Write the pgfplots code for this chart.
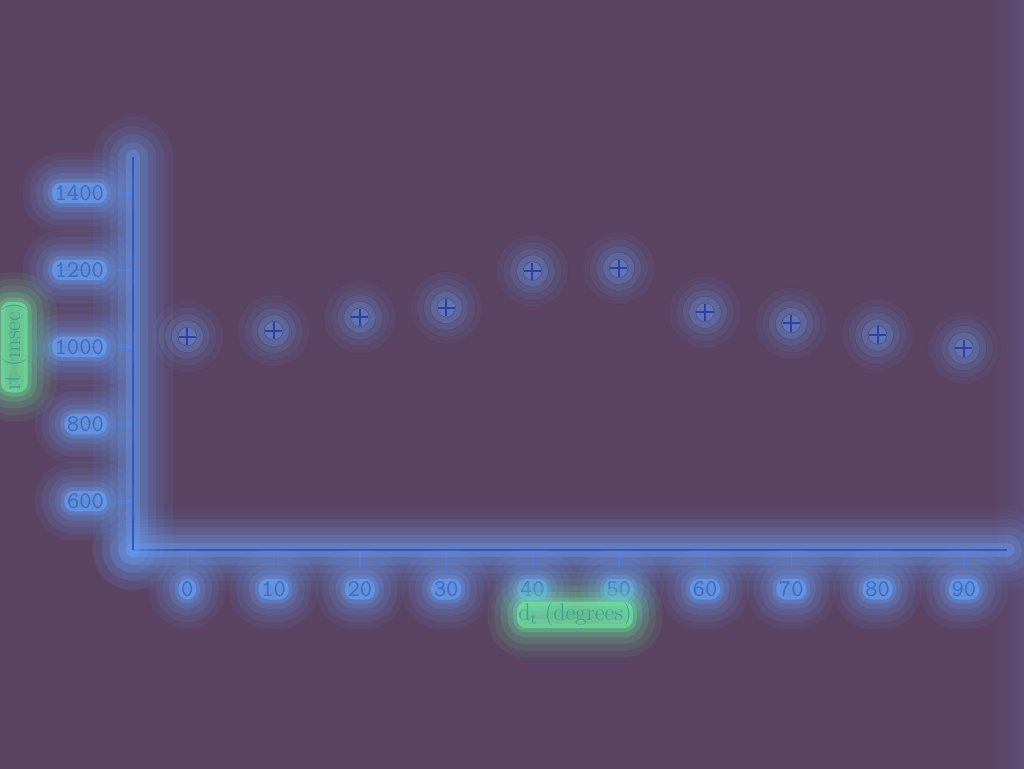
\documentclass[border=0pt]{standalone}
\usepackage{pgfplots}
\pgfplotsset{compat=1.18}
\definecolor{bgc}{RGB}{91,68,99}
\definecolor{bgr}{RGB}{96,80,128}
\definecolor{axisblue}{RGB}{52,86,196}
\definecolor{glow}{RGB}{105,165,255}
\definecolor{markc}{RGB}{50,62,160}
\definecolor{txt}{RGB}{50,112,196}
\definecolor{gl2}{RGB}{112,240,160}
\definecolor{ltxt}{RGB}{50,160,160}
\tikzset{
  glowbox/.style={rounded corners=7pt,
    preaction={draw=#1, line width=44pt, opacity=0.07, line join=round},
    preaction={draw=#1, line width=34pt, opacity=0.09, line join=round},
    preaction={draw=#1, line width=24pt, opacity=0.12, line join=round},
    preaction={draw=#1, line width=14pt, opacity=0.18, line join=round},
    preaction={draw=#1, line width=6pt, opacity=0.25, line join=round},
    preaction={fill=#1, opacity=0.6}},
}
\begin{document}
\begin{tikzpicture}
\path[use as bounding box] (0,0) rectangle (768pt,576pt);
\fill[bgc] (-5pt,-5pt) rectangle (775pt,581pt);
\shade[left color=bgc, right color=bgr] (745pt,-5pt) rectangle (775pt,581pt);
\begin{axis}[
  at={(99.75pt,163.5pt)}, anchor=south west,
  scale only axis, width=655.5pt, height=294.75pt,
  xmin=-6.3, xmax=95, ymin=473, ymax=1493,
  axis lines=left,
  axis line style={-, axisblue, line width=1.4pt,
     preaction={draw=glow, line width=60pt, opacity=0.07, line cap=round, line join=round},
     preaction={draw=glow, line width=46pt, opacity=0.1, line cap=round, line join=round},
     preaction={draw=glow, line width=34pt, opacity=0.14, line cap=round, line join=round},
     preaction={draw=glow, line width=22pt, opacity=0.2, line cap=round, line join=round},
     preaction={draw=glow, line width=11pt, opacity=0.3, line cap=round, line join=round}},
  xtick={0,10,...,90}, ytick={600,800,...,1400},
  tick align=outside, major tick length=13.5pt,
  tick style={axisblue, line width=1.2pt},
  tick label style={font=\fontsize{18}{20}\fontseries{l}\selectfont\ttfamily, text=txt,
     /pgf/number format/assume math mode=true, glowbox=glow, inner sep=2pt},
  xticklabel style={yshift=-8pt},
  yticklabel style={xshift=-6pt},
  /pgf/number format/1000 sep={},
  xlabel={d\textsubscript{t} (degrees)},
  ylabel={rt (msec)},
  label style={font=\fontsize{18}{20}\selectfont, text=ltxt, glowbox=gl2, inner sep=1pt},
  xlabel style={at={(axis description cs:0.5057,-0.165)}, anchor=center},
  ylabel style={at={(axis description cs:-0.1359,0.5165)}, anchor=center},
  clip=false,
]
\pgfplotstableread{
x y
0 1027
10 1042
20 1077
30 1102
40 1197
50 1204
60 1090
70 1061
80 1031
90 997
}\data
\addplot[only marks, mark=*, mark size=27pt, mark options={fill=glow, draw=none, opacity=0.05}] table {\data};
\addplot[only marks, mark=*, mark size=22pt, mark options={fill=glow, draw=none, opacity=0.08}] table {\data};
\addplot[only marks, mark=*, mark size=17pt, mark options={fill=glow, draw=none, opacity=0.12}] table {\data};
\addplot[only marks, mark=*, mark size=12pt, mark options={fill=glow, draw=none, opacity=0.18}] table {\data};
\addplot[only marks, mark=*, mark size=7pt, mark options={fill=glow, draw=none, opacity=0.25}] table {\data};
\addplot[only marks, mark=+, mark size=6.4pt, mark options={draw=markc, line width=1.5pt}] table {\data};
\end{axis}
\end{tikzpicture}
\end{document}
